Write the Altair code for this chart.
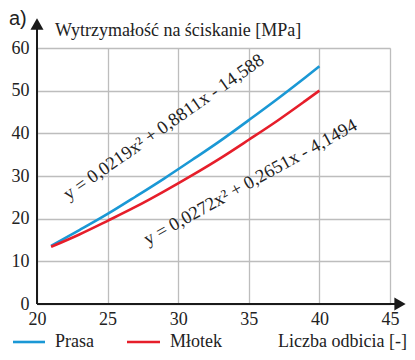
import altair as alt
import pandas as pd

# data
x_vals = [21, 23, 25, 27, 29, 31, 33, 35, 37, 39, 40]
prasa = [13.6, 17.3, 21.1, 25.2, 29.4, 33.8, 38.3, 43.1, 48.0, 53.1, 55.7]
mlotek = [13.4, 16.3, 19.5, 22.8, 26.4, 30.2, 34.2, 38.5, 42.9, 47.6, 50.0]
series_names = ["Prasa", "Młotek"]
series_colors = ["#1a98d5", "#e61e2a"]
x_ticks = [20, 25, 30, 35, 40, 45]
y_ticks = [0, 10, 20, 30, 40, 50, 60]
eq_text = ["y = 0,0219x² + 0,8811x - 14,588", "y = 0,0272x² + 0,2651x - 4,1494"]
eq_x = [29.2, 35.3]
eq_y = [40.4, 27.4]
eq_angle = [325, 331]
y_title = "Wytrzymałość na ściskanie [MPa]"
x_title = "Liczba odbicia [-]"
panel = "a)"

W, H = 353, 256
PAD_L, PAD_T, PAD_R, PAD_B = 29, 40, 17, 46
SERIF = "'Liberation Serif', 'Times New Roman', Times, 'DejaVu Serif', serif"
SANS = "'Liberation Sans', Arial, sans-serif"

rows = []
for xv, p, m in zip(x_vals, prasa, mlotek):
    rows.append({"x": xv, "y": p, "s": series_names[0]})
    rows.append({"x": xv, "y": m, "s": series_names[1]})
df = pd.DataFrame(rows)

xs = alt.Scale(domain=[20, 45], nice=False, zero=False)
ys = alt.Scale(domain=[0, 60], nice=False)

base_x = alt.X("x:Q", scale=xs, axis=alt.Axis(values=x_ticks, grid=True, domain=False, ticks=False,
                                             labelPadding=6, title=None, labelFontSize=18,
                                             labelFlush=False, labelOverlap=False,
                                             labelFont=SERIF, labelColor="#222", gridColor="#bdbdbd",
                                             gridWidth=1.3))
base_y = alt.Y("y:Q", scale=ys, axis=alt.Axis(values=y_ticks, grid=True, domain=False, ticks=False,
                                             labelPadding=8, title=None, labelFontSize=18,
                                             labelFlush=False, labelOverlap=False,
                                             labelFont=SERIF, labelColor="#222", gridColor="#bdbdbd",
                                             gridWidth=1.3))

lines = alt.Chart(df).mark_line(strokeWidth=2.6, interpolate="monotone").encode(
    x=base_x, y=base_y,
    color=alt.Color("s:N", scale=alt.Scale(domain=series_names, range=series_colors), legend=None),
    detail="s:N",
)

eq_df = pd.DataFrame({"x": eq_x, "y": eq_y, "t": eq_text, "a": eq_angle})
eqs = alt.Chart(eq_df).mark_text(font=SERIF, fontSize=18.5, color="#222", align="center",
                                 baseline="alphabetic").encode(
    x=alt.X("x:Q", scale=xs), y=alt.Y("y:Q", scale=ys), text="t:N", angle=alt.Angle("a:Q", scale=None)
)

one = pd.DataFrame({"k": [0]})
black = "#1a1a1a"

x_axis_line = alt.Chart(one).mark_rule(color=black, strokeWidth=2).encode(
    x=alt.value(0), x2=alt.value(W + 8), y=alt.value(H))
y_axis_line = alt.Chart(one).mark_rule(color=black, strokeWidth=2).encode(
    x=alt.value(0), y=alt.value(H), y2=alt.value(-20))
x_arrow = alt.Chart(one).mark_point(shape="triangle-right", filled=True, color=black, size=170, opacity=1).encode(
    x=alt.value(W + 10), y=alt.value(H))
y_arrow = alt.Chart(one).mark_point(shape="triangle-up", filled=True, color=black, size=170, opacity=1).encode(
    x=alt.value(0), y=alt.value(-24))

LEG_Y = 294
leg_lines = pd.DataFrame({"x1": [-24, 90], "x2": [8, 123], "c": series_names})
leg_rules = alt.Chart(leg_lines).mark_rule(strokeWidth=2.6).encode(
    x=alt.X("x1:Q", scale=None), x2="x2:Q", y=alt.value(LEG_Y),
    color=alt.Color("c:N", scale=alt.Scale(domain=series_names, range=series_colors), legend=None))
leg_txt = pd.DataFrame({"x": [18, 133], "t": series_names})
leg_texts = alt.Chart(leg_txt).mark_text(font=SERIF, fontSize=18, color="#222", align="left",
                                         baseline="middle").encode(
    x=alt.X("x:Q", scale=None), y=alt.value(LEG_Y), text="t:N")

xt = alt.Chart(one).mark_text(font=SERIF, fontSize=18, color="#222", align="right", baseline="middle",
                              text=x_title).encode(x=alt.value(W + 17), y=alt.value(LEG_Y))
yt = alt.Chart(one).mark_text(font=SERIF, fontSize=18, color="#222", align="left", baseline="middle",
                              text=y_title).encode(x=alt.value(18), y=alt.value(-17))
pt = alt.Chart(one).mark_text(font=SANS, fontSize=20, color="#222", align="left",
                              baseline="middle", text=panel).encode(x=alt.value(-28), y=alt.value(-29))

chart = alt.layer(lines, eqs, x_axis_line, y_axis_line, x_arrow, y_arrow, leg_rules, leg_texts, xt, yt, pt).properties(
    width=W, height=H,
    autosize=alt.AutoSizeParams(type="none"),
    padding={"left": PAD_L, "top": PAD_T, "right": PAD_R, "bottom": PAD_B},
).configure_view(stroke=None).configure(background="white")

chart.save("out.html", embed_options={"renderer": "svg", "actions": False})
